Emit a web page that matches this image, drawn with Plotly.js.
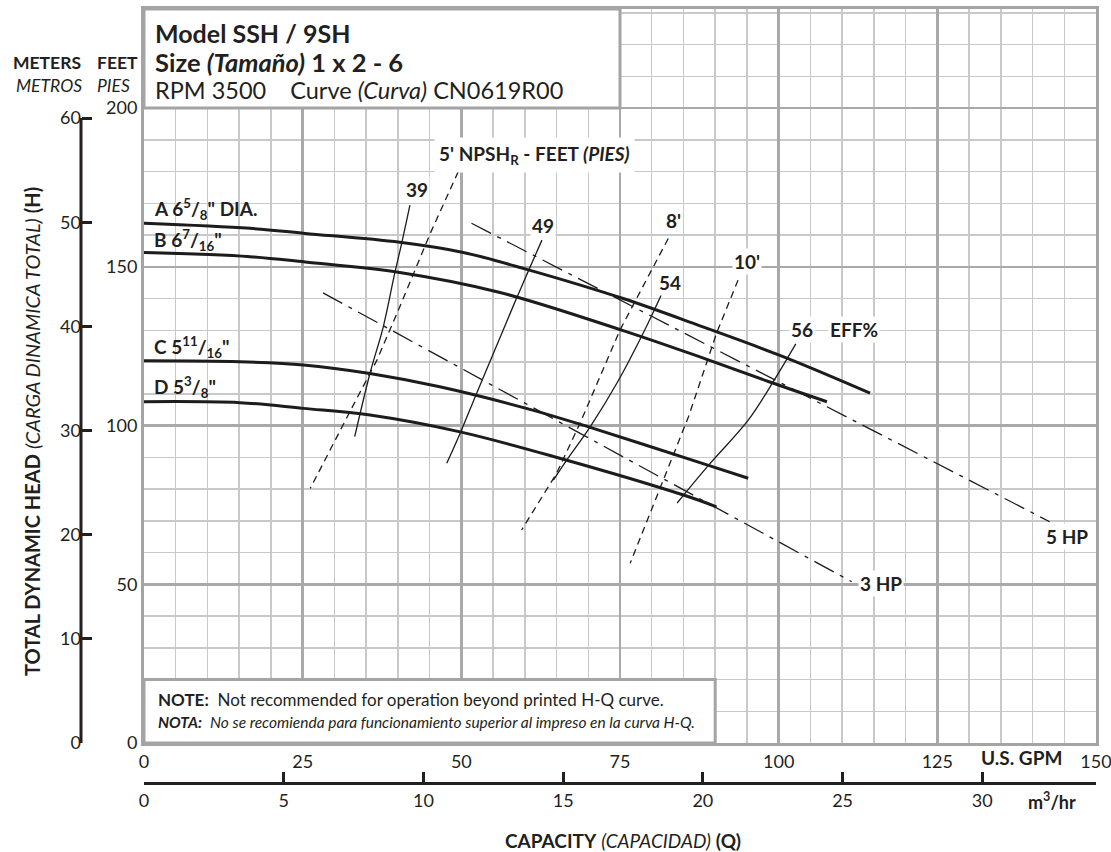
<!DOCTYPE html>
<html><head><meta charset="utf-8">
<script src="https://cdn.plot.ly/plotly-3.0.1.min.js"></script>
<style>html,body{margin:0;padding:0;background:#fff}#chart{width:1111px;height:852px}</style>
</head><body><div id="chart"></div>
<script>
// ---------------- data (GPM vs head in feet) ----------------
const gpmA  = [0, 16.7, 25.4, 40.3, 50.3, 60.3, 75.5, 87.6, 100.7, 114.4];
const headA = [163.7, 162.1, 160.5, 157.7, 154.5, 149.2, 140.0, 131.4, 121.7, 110.2];
const gpmB  = [0, 16.7, 25.4, 40.3, 56.1, 75.5, 87.6, 98.6, 107.6];
const headB = [154.5, 153.2, 151.5, 148.2, 141.9, 129.9, 121.6, 113.7, 107.5];
const gpmC  = [0, 15.1, 25.1, 35.6, 46.6, 60.8, 70.3, 88.7, 95.2];
const headC = [120.4, 120.1, 119.1, 116.4, 112.2, 105.1, 99.4, 87.6, 83.4];
const gpmD  = [0, 15.1, 25.1, 35.6, 49.8, 65.5, 85.0, 90.2];
const headD = [107.5, 107.2, 105.4, 103.3, 98.0, 89.7, 78.1, 74.4];

const eff39Gpm  = [41.9, 40.6, 39.5, 37.7, 35.6, 33.2];
const eff39Head = [169.4, 157.4, 147.9, 131.1, 116.4, 96.5];
const eff49Gpm  = [62.7, 60.5, 58.7, 56.6, 52.4, 49.8, 47.7];
const eff49Head = [158.4, 148.4, 140.1, 130.1, 110.1, 97.5, 88.1];
const eff54Gpm  = [81.6, 78.9, 74.5, 70.3, 66.6, 64.5];
const eff54Head = [141.6, 130.1, 113.3, 99.6, 89.1, 82.8];
const eff56Gpm  = [102.7, 99.3, 95.2, 89.0, 84.0];
const eff56Head = [125.7, 114.3, 101.7, 87.6, 75.6];

const npsh5Gpm   = [49.5, 45.1, 40.3, 36.7, 33.0, 26.2];
const npsh5Head  = [179.9, 160.5, 137.4, 120.6, 106.5, 80.2];
const npsh8Gpm   = [82.6, 75.0, 68.7, 65.0, 59.5];
const npsh8Head  = [158.9, 130.1, 100.7, 84.9, 67.1];
const npsh10Gpm  = [93.6, 90.2, 85.8, 82.9, 76.6];
const npsh10Head = [145.8, 129.0, 102.8, 88.1, 56.6];

const hp5Gpm  = [51.6, 142.7];
const hp5Head = [163.7, 69.7];
const hp3Gpm  = [28.2, 111.5];
const hp3Head = [141.8, 50.8];

const gpmTicks   = [0, 25, 50, 75, 100, 125, 150];
const ftTicks    = [0, 50, 100, 150, 200];
const meterTicks = [0, 10, 20, 30, 40, 50, 60];
const m3Ticks    = [0, 5, 10, 15, 20, 25, 30];

// ---------------- geometry ----------------
const W = 1111, H = 852;
const L = 81, R = 15, T = 9, B = 62;
const paperW = W - L - R, paperH = H - T - B;
const px = x => (x - L) / paperW;
const py = y => (H - B - y) / paperH;
const FT_PER_M = 3.28084, GPM_PER_M3H = 4.402868;
const yTop = 231.2, xMax = 150;

const ink = '#231f20';
const FONT = 'Lato, "Noto Sans", "DejaVu Sans", sans-serif';

function line(x, y, w, dash, shape) {
  return {x: x, y: y, mode: 'lines', hoverinfo: 'skip',
          line: {color: '#1c1c1c', width: w, dash: dash || 'solid', shape: shape || 'linear'}};
}

const traces = [
  line(gpmA, headA, 3, 'solid', 'spline'),
  line(gpmB, headB, 3, 'solid', 'spline'),
  line(gpmC, headC, 3, 'solid', 'spline'),
  line(gpmD, headD, 3, 'solid', 'spline'),
  line(eff39Gpm, eff39Head, 1.3, 'solid', 'spline'),
  line(eff49Gpm, eff49Head, 1.3, 'solid', 'spline'),
  line(eff54Gpm, eff54Head, 1.3, 'solid', 'spline'),
  line(eff56Gpm, eff56Head, 1.3, 'solid', 'spline'),
  line(npsh5Gpm, npsh5Head, 1.3, '7px,5px'),
  line(npsh8Gpm, npsh8Head, 1.3, '7px,5px'),
  line(npsh10Gpm, npsh10Head, 1.3, '7px,5px'),
  line(hp5Gpm, hp5Head, 1.3, '22px,7px,4px,7px'),
  line(hp3Gpm, hp3Head, 1.3, '22px,7px,4px,7px'),
  {x: [0], y: [0], xaxis: 'x', yaxis: 'y2', mode: 'markers', marker: {opacity: 0}, hoverinfo: 'skip'},
  {x: [0], y: [0], xaxis: 'x2', yaxis: 'y', mode: 'markers', marker: {opacity: 0}, hoverinfo: 'skip'}
];

function f(size) { return {family: FONT, size: size, color: ink}; }
function dataLabel(x, y, text, opts) {
  return Object.assign({xref: 'x', yref: 'y', x: x, y: y, text: text, showarrow: false,
    xanchor: 'center', yanchor: 'middle', font: f(19), bgcolor: '#fff', borderpad: 1}, opts || {});
}
function pageText(xp, yp, text, opts) {
  return Object.assign({xref: 'paper', yref: 'paper', x: px(xp), y: py(yp), text: text, showarrow: false,
    xanchor: 'center', yanchor: 'middle', font: f(18)}, opts || {});
}
const clearBg = {xanchor: 'left', bgcolor: 'rgba(255,255,255,0)', borderpad: 0};

const annotations = [
  // curve labels
  dataLabel(1.4, 168.3, '<b>A 6<sup>5</sup>/<sub>8</sub>" DIA.</b>', clearBg),
  dataLabel(1.4, 158.5, '<b>B 6<sup>7</sup>/<sub>16</sub>"</b>', clearBg),
  dataLabel(1.4, 124.8, '<b>C 5<sup>11</sup>/<sub>16</sub>"</b>', clearBg),
  dataLabel(1.4, 112.2, '<b>D 5<sup>3</sup>/<sub>8</sub>"</b>', clearBg),
  dataLabel(43.0, 174.2, '<b>39</b>'),
  dataLabel(62.9, 162.9, '<b>49</b>'),
  dataLabel(82.9, 145.0, '<b>54</b>'),
  dataLabel(103.7, 130.1, '<b>56</b>'),
  dataLabel(111.9, 130.1, '<b>EFF%</b>'),
  dataLabel(61.6, 185.2, '<b>5\' NPSH<sub>R</sub> - FEET <i>(PIES)</i></b>', {borderpad: 4}),
  dataLabel(83.4, 164.7, '<b>8\'</b>'),
  dataLabel(95.0, 151.6, '<b>10\'</b>'),
  dataLabel(145.4, 65.0, '<b>5 HP</b>'),
  dataLabel(116.2, 50.3, '<b>3 HP</b>'),
  // title box
  pageText(153, 33, '<b>Model SSH / 9SH</b>', {xanchor: 'left', font: f(25)}),
  pageText(153, 62, '<b>Size <i>(Tamaño)</i> 1 x 2 - 6</b>', {xanchor: 'left', font: f(25.5)}),
  pageText(153, 90, 'RPM 3500\u00a0\u00a0\u00a0 Curve <i>(Curva)</i> CN0619R00', {xanchor: 'left', font: f(23.5)}),
  // axis headers
  pageText(47, 63, '<b>METERS</b>', {font: f(17.5)}),
  pageText(117, 63, '<b>FEET</b>', {font: f(17.5)}),
  pageText(49, 86, '<i>METROS</i>', {font: f(17.5)}),
  pageText(113, 86, '<i>PIES</i>', {font: f(17.5)}),
  pageText(32, 432, '<b>TOTAL DYNAMIC HEAD</b> <i>(CARGA DINAMICA TOTAL)</i> <b>(H)</b>', {textangle: -90, font: f(20)}),
  pageText(623, 840, '<b>CAPACITY</b> <i>(CAPACIDAD)</i> <b>(Q)</b>', {font: f(19)}),
  pageText(1021, 757, '<b>U.S. GPM</b>', {font: f(19)}),
  pageText(1052, 801, '<b>m<sup>3</sup>/hr</b>', {font: f(18)}),
  // note
  pageText(156, 699, '<b>NOTE:</b>\u00a0 Not recommended for operation beyond printed H-Q curve.', {xanchor: 'left', font: f(17)}),
  pageText(156, 722, '<b><i>NOTA:</i></b>\u00a0 <i>No se recomienda para funcionamiento superior al impreso en la curva H-Q.</i>', {xanchor: 'left', font: f(15.5)})
];

const shapes = [
  {type: 'rect', xref: 'x', yref: 'y', x0: 0, x1: 75, y0: 200, y1: yTop, fillcolor: '#fff', line: {color: '#a4a4a4', width: 3}, layer: 'between'},
  {type: 'rect', xref: 'x', yref: 'y', x0: 0, x1: 90, y0: 0, y1: 20, fillcolor: '#fff', line: {color: '#a4a4a4', width: 3}, layer: 'between'},
  {type: 'line', xref: 'paper', yref: 'y2', x0: 0, x1: 0, y0: meterTicks[0], y1: meterTicks[meterTicks.length - 1], line: {color: ink, width: 3}}
];

const gridMajor = '#a9a9a9', gridMinor = '#c9c9c9';
const layout = {
  width: W, height: H,
  margin: {l: L, r: R, t: T, b: B, pad: 0},
  paper_bgcolor: '#fff', plot_bgcolor: 'rgba(0,0,0,0)',
  showlegend: false, hovermode: false,
  font: {family: FONT, color: ink, size: 18},
  xaxis: {
    domain: [px(144), 1], range: [0, xMax], tickvals: gpmTicks, ticktext: gpmTicks.map(String),
    ticks: '', showgrid: true, gridcolor: gridMajor, gridwidth: 2.5,
    minor: {dtick: 5, showgrid: true, gridcolor: gridMinor, gridwidth: 1.5},
    showline: true, mirror: true, linecolor: '#a4a4a4', linewidth: 3, zeroline: false,
    tickfont: f(18), ticklabeloverflow: 'allow'
  },
  yaxis: {
    domain: [py(743), 1], range: [0, yTop], tickvals: ftTicks, ticktext: ftTicks.map(String),
    ticks: '', showgrid: true, gridcolor: gridMajor, gridwidth: 2.5,
    minor: {dtick: 10, showgrid: true, gridcolor: gridMinor, gridwidth: 1.5},
    showline: true, mirror: true, linecolor: '#a4a4a4', linewidth: 3, zeroline: false,
    tickfont: f(18), ticklabeloverflow: 'allow'
  },
  yaxis2: {
    overlaying: 'y', anchor: 'free', position: 0, side: 'left',
    range: [0, yTop / FT_PER_M], tickvals: meterTicks, ticktext: meterTicks.map(String),
    ticks: 'inside', ticklen: 10, tickwidth: 3, tickcolor: ink,
    showline: false, showgrid: false, zeroline: false,
    tickfont: f(18), ticklabeloverflow: 'allow'
  },
  xaxis2: {
    overlaying: 'x', anchor: 'free', position: py(783), side: 'bottom',
    range: [0, xMax / GPM_PER_M3H], tickvals: m3Ticks, ticktext: m3Ticks.map(String),
    ticks: 'inside', ticklen: 10, tickwidth: 3, tickcolor: ink,
    showline: true, linecolor: ink, linewidth: 3, showgrid: false, zeroline: false,
    tickfont: f(18), ticklabeloverflow: 'allow'
  },
  shapes: shapes,
  annotations: annotations
};

Plotly.newPlot('chart', traces, layout, {staticPlot: true, displayModeBar: false});
</script>
</body></html>
